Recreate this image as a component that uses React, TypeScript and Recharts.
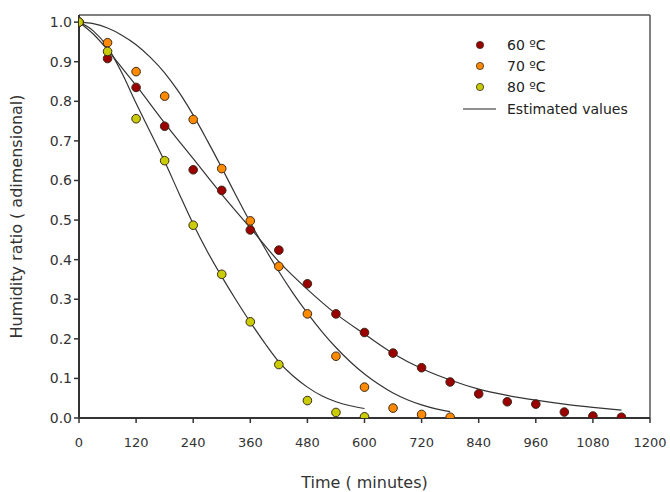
import React from "react";
import {
  ComposedChart,
  Scatter,
  Line,
  XAxis,
  YAxis,
  ReferenceLine,
} from "recharts";

// Observed humidity ratios
const obs60 = [
  { t: 0, mr: 1.0 }, { t: 60, mr: 0.908 }, { t: 120, mr: 0.835 }, { t: 180, mr: 0.737 },
  { t: 240, mr: 0.627 }, { t: 300, mr: 0.575 }, { t: 360, mr: 0.475 }, { t: 420, mr: 0.424 },
  { t: 480, mr: 0.339 }, { t: 540, mr: 0.263 }, { t: 600, mr: 0.216 }, { t: 660, mr: 0.164 },
  { t: 720, mr: 0.127 }, { t: 780, mr: 0.091 }, { t: 840, mr: 0.061 }, { t: 900, mr: 0.041 },
  { t: 960, mr: 0.035 }, { t: 1020, mr: 0.015 }, { t: 1080, mr: 0.005 }, { t: 1140, mr: 0.002 },
];
const obs70 = [
  { t: 0, mr: 1.0 }, { t: 60, mr: 0.948 }, { t: 120, mr: 0.875 }, { t: 180, mr: 0.813 },
  { t: 240, mr: 0.754 }, { t: 300, mr: 0.63 }, { t: 360, mr: 0.498 }, { t: 420, mr: 0.383 },
  { t: 480, mr: 0.263 }, { t: 540, mr: 0.156 }, { t: 600, mr: 0.078 }, { t: 660, mr: 0.025 },
  { t: 720, mr: 0.009 }, { t: 780, mr: 0.002 },
];
const obs80 = [
  { t: 0, mr: 1.0 }, { t: 60, mr: 0.926 }, { t: 120, mr: 0.756 }, { t: 180, mr: 0.65 },
  { t: 240, mr: 0.487 }, { t: 300, mr: 0.363 }, { t: 360, mr: 0.243 }, { t: 420, mr: 0.135 },
  { t: 480, mr: 0.044 }, { t: 540, mr: 0.014 }, { t: 600, mr: 0.003 },
];

// Estimated (model) curves
const est60 = [
  { t: 0, mr: 1.0 }, { t: 30, mr: 0.97 }, { t: 60, mr: 0.93 }, { t: 90, mr: 0.885 },
  { t: 120, mr: 0.84 }, { t: 180, mr: 0.745 }, { t: 240, mr: 0.655 }, { t: 300, mr: 0.565 },
  { t: 360, mr: 0.48 }, { t: 420, mr: 0.395 }, { t: 480, mr: 0.325 }, { t: 540, mr: 0.263 },
  { t: 600, mr: 0.212 }, { t: 660, mr: 0.163 }, { t: 720, mr: 0.125 }, { t: 780, mr: 0.096 },
  { t: 840, mr: 0.073 }, { t: 900, mr: 0.057 }, { t: 960, mr: 0.045 }, { t: 1020, mr: 0.035 },
  { t: 1080, mr: 0.027 }, { t: 1140, mr: 0.02 },
];
const est70 = [
  { t: 0, mr: 1.0 }, { t: 30, mr: 0.996 }, { t: 60, mr: 0.985 }, { t: 90, mr: 0.967 },
  { t: 120, mr: 0.943 }, { t: 150, mr: 0.911 }, { t: 180, mr: 0.872 }, { t: 210, mr: 0.823 },
  { t: 240, mr: 0.765 }, { t: 270, mr: 0.7 }, { t: 300, mr: 0.632 }, { t: 330, mr: 0.562 },
  { t: 360, mr: 0.494 }, { t: 390, mr: 0.43 }, { t: 420, mr: 0.37 }, { t: 450, mr: 0.315 },
  { t: 480, mr: 0.265 }, { t: 510, mr: 0.219 }, { t: 540, mr: 0.178 }, { t: 570, mr: 0.142 },
  { t: 600, mr: 0.111 }, { t: 630, mr: 0.085 }, { t: 660, mr: 0.063 }, { t: 690, mr: 0.046 },
  { t: 720, mr: 0.033 }, { t: 750, mr: 0.023 }, { t: 780, mr: 0.016 },
];
const est80 = [
  { t: 0, mr: 1.0 }, { t: 30, mr: 0.978 }, { t: 60, mr: 0.937 }, { t: 90, mr: 0.872 },
  { t: 120, mr: 0.795 }, { t: 150, mr: 0.722 }, { t: 180, mr: 0.648 }, { t: 210, mr: 0.568 },
  { t: 240, mr: 0.49 }, { t: 270, mr: 0.42 }, { t: 300, mr: 0.357 }, { t: 330, mr: 0.298 },
  { t: 360, mr: 0.242 }, { t: 390, mr: 0.19 }, { t: 420, mr: 0.142 }, { t: 450, mr: 0.106 },
  { t: 480, mr: 0.078 }, { t: 510, mr: 0.056 }, { t: 540, mr: 0.041 }, { t: 570, mr: 0.031 },
  { t: 600, mr: 0.024 },
];

const xTicks = [0, 120, 240, 360, 480, 600, 720, 840, 960, 1080, 1200];
const yTicks = [0, 0.1, 0.2, 0.3, 0.4, 0.5, 0.6, 0.7, 0.8, 0.9, 1.0];
const seriesNames = ["60 ºC", "70 ºC", "80 ºC"];
const seriesColors = ["#9a0000", "#ff8a00", "#c8cc00"];
const lineName = "Estimated values";

const FONT = "'DejaVu Sans', sans-serif";

const Dot = (color: string) => (props: any) => {
  const { cx, cy } = props;
  if (cx == null || cy == null) return null;
  return <circle cx={cx} cy={cy} r={4.3} fill={color} stroke="#3a2a1a" strokeWidth={1} />;
};

const LegendBox = () => (
  <svg
    width={200}
    height={90}
    style={{ position: "absolute", left: 460, top: 36, overflow: "visible" }}
  >
    {seriesNames.map((n, i) => (
      <g key={n}>
        <circle cx={20} cy={9 + i * 21} r={3.6} fill={seriesColors[i]} stroke="#3a2a1a" strokeWidth={0.8} />
        <text x={47} y={9 + i * 21} dy="0.35em" fontSize={14} fontFamily={FONT} fill="#222">
          {n}
        </text>
      </g>
    ))}
    <line x1={3} x2={36} y1={73} y2={73} stroke="#222" strokeWidth={1.2} />
    <text x={47} y={73} dy="0.35em" fontSize={14} fontFamily={FONT} fill="#222">
      {lineName}
    </text>
  </svg>
);

export default function App() {
  return (
    <div style={{ position: "absolute", left: 0, top: 0, width: 670, height: 492, background: "#fff" }}>
      <ComposedChart
        width={670}
        height={492}
        margin={{ top: 15, right: 20, bottom: 0, left: 0 }}
      >
        <XAxis
          type="number"
          dataKey="t"
          domain={[0, 1200]}
          ticks={xTicks}
          allowDataOverflow
          axisLine={{ stroke: "#333", strokeWidth: 2 }}
          tickLine={{ stroke: "#333", strokeWidth: 1.5 }}
          tickSize={5}
          tickMargin={15}
          tick={{ fontSize: 13, fontFamily: FONT, fill: "#333" }}
          height={74}
          label={{
            value: "Time ( minutes)",
            position: "insideBottom",
            offset: 4,
            fontSize: 16,
            fontFamily: FONT,
            fill: "#333",
          }}
        />
        <YAxis
          type="number"
          dataKey="mr"
          domain={[0, 1.018]}
          ticks={yTicks}
          allowDataOverflow
          tickFormatter={(v: number) => v.toFixed(1)}
          axisLine={{ stroke: "#333", strokeWidth: 2 }}
          tickLine={{ stroke: "#333", strokeWidth: 1.5 }}
          tickSize={5}
          tick={{ fontSize: 14, fontFamily: FONT, fill: "#333" }}
          width={79}
          label={{
            value: "Humidity ratio ( adimensional)",
            angle: -90,
            position: "insideLeft",
            offset: 16,
            fontSize: 16,
            fontFamily: FONT,
            fill: "#333",
            style: { textAnchor: "middle" },
          }}
        />
        <ReferenceLine y={1.018} stroke="#555" strokeWidth={1.5} ifOverflow="visible" />
        <ReferenceLine x={1200} stroke="#555" strokeWidth={1.5} ifOverflow="visible" />
        <Line data={est60} dataKey="mr" type="monotone" stroke="#333" strokeWidth={1.2} dot={false} isAnimationActive={false} legendType="none" />
        <Line data={est70} dataKey="mr" type="monotone" stroke="#333" strokeWidth={1.2} dot={false} isAnimationActive={false} legendType="none" />
        <Line data={est80} dataKey="mr" type="monotone" stroke="#333" strokeWidth={1.2} dot={false} isAnimationActive={false} legendType="none" />
        <Scatter data={obs60} dataKey="mr" name={seriesNames[0]} shape={Dot(seriesColors[0])} isAnimationActive={false} />
        <Scatter data={obs70} dataKey="mr" name={seriesNames[1]} shape={Dot(seriesColors[1])} isAnimationActive={false} />
        <Scatter data={obs80} dataKey="mr" name={seriesNames[2]} shape={Dot(seriesColors[2])} isAnimationActive={false} />
      </ComposedChart>
      <LegendBox />
    </div>
  );
}
